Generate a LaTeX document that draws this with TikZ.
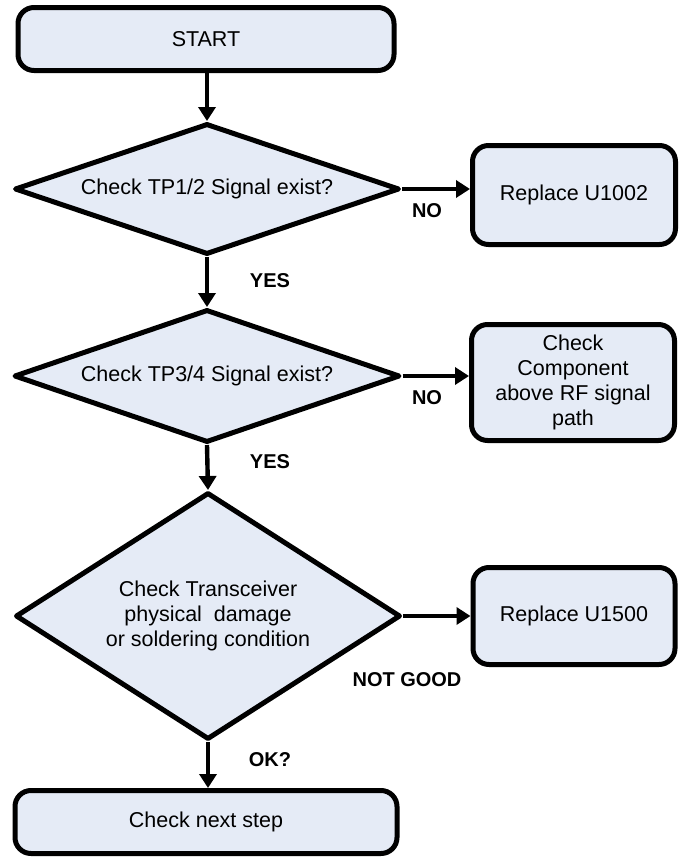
\documentclass[tikz,border=0pt]{standalone}
\usepackage{fontspec}
\setmainfont{Liberation Sans}
\usetikzlibrary{arrows.meta,shapes.geometric,positioning,calc}
\definecolor{boxfill}{RGB}{229,235,246}

\begin{document}
\begin{tikzpicture}
[x=0.5pt,y=-0.5pt,
every node/.style={font=\fontsize{10.75}{12.5}\selectfont,align=center,inner sep=0pt},
box/.style={draw,line width=2.5pt,fill=boxfill,rounded corners=8pt},
test/.style={diamond,draw,line width=2.5pt,line join=round,fill=boxfill},
answer/.style={font=\fontsize{10}{12}\selectfont\bfseries},
flow/.style={draw,line width=2.2pt,-{Triangle[length=7pt,width=8.5pt]}}]
\useasboundingbox (0,0) rectangle (679,857);
\node[box,minimum width=188pt,minimum height=31.5pt] (start) at (206,39) {START};
\node[test,aspect=2.94,minimum width=192.5pt,minimum height=65.5pt] (tp12) at (207,189) {Check TP1/2 Signal exist?};
\node[test,aspect=2.9,minimum width=193pt,minimum height=66.5pt] (tp34) at (207,376) {Check TP3/4 Signal exist?};
\node[test,aspect=1.56,minimum width=192.5pt,minimum height=123.5pt] (trx) at (208,616)
  {Check Transceiver\\ physical\ \ damage\\ or soldering condition};
\node[box,minimum width=191pt,minimum height=31.5pt] (next) at (206,822) {Check next step};
\node[box,minimum width=101.5pt,minimum height=49.5pt] (u1002) at (574,195) {Replace U1002};
\node[box,minimum width=101.5pt,minimum height=58pt] (rf) at (573,382.5)
  {Check\\ Component\\ above RF signal\\ path};
\node[box,minimum width=101pt,minimum height=48.5pt] (u1500) at (574,616) {Replace U1500};
\node[answer] (no1) at (427,211) {NO};
\node[answer] (no2) at (427,398) {NO};
\node[answer] (yes1) at (270,281) {YES};
\node[answer] (yes2) at (270,462) {YES};
\node[answer] (bad) at (407,680) {NOT GOOD};
\node[answer] (ok) at (270,760) {OK?};
\draw[flow] (start.south -| tp12.north) -- (tp12.north);
\draw[flow] (tp12.south) -- (tp34.north);
\draw[flow] (tp34.south) -- (trx.north);
\draw[flow] (trx.south) -- (trx.south |- next.north);
\draw[flow] (tp12.east) -- (tp12.east -| u1002.west);
\draw[flow] (tp34.east) -- (tp34.east -| rf.west);
\draw[flow] (trx.east) -- (trx.east -| u1500.west);
\end{tikzpicture}
\end{document}
